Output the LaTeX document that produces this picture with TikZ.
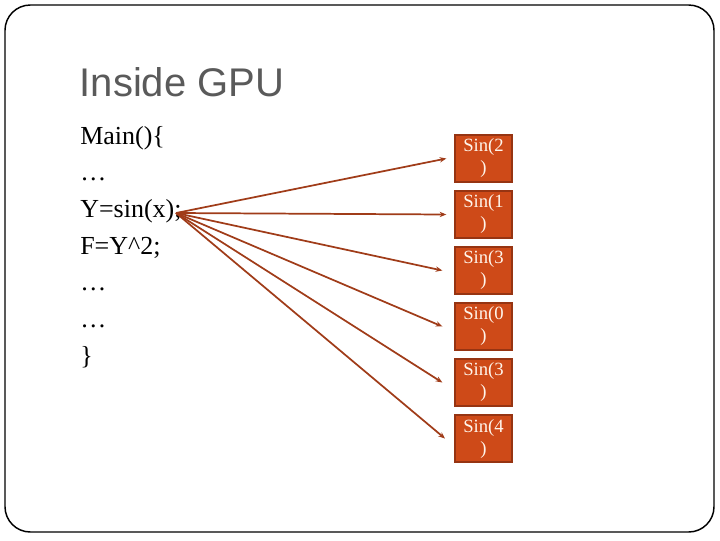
\documentclass[tikz,border=0pt]{standalone}
\usepackage{fontspec}
\setmainfont{Liberation Serif}
\newfontfamily\titlefont{Liberation Sans}
\usetikzlibrary{arrows.meta, positioning}
\definecolor{sinfill}{RGB}{206, 74, 24}
\definecolor{sinedge}{RGB}{150, 52, 18}
\definecolor{callline}{RGB}{160, 60, 25}
\definecolor{titlegray}{RGB}{90, 90, 90}

\begin{document}
\begin{tikzpicture}[
  x=0.75pt, y=-0.75pt,
  sinbox/.style={draw=sinedge, fill=sinfill, line width=1pt, minimum width=42.75pt, minimum height=35.25pt, inner sep=1pt, align=center, text=white!92!orange, font=\fontsize{14}{16.5}\selectfont},
  call/.style={draw=callline, line width=1.3pt, -{Stealth[length=5pt, width=4pt]}}
]
  \useasboundingbox (0,0) rectangle (720,540);
  \draw[line width=1.1pt, rounded corners=19pt] (5,5) rectangle (714,532);

  \node[anchor=base west, text=titlegray, font=\titlefont\fontsize{30}{34}\selectfont] (title) at (75,96) {Inside GPU};
  \node[anchor=base west, align=left, inner sep=0pt, font=\fontsize{19.5}{27.5}\selectfont] (code) at (80,364) {Main()\{\\\dots\\Y=sin(x);\\F=Y\^{}2;\\\dots\\\dots\\\}};
  \coordinate (src) at (176,213);

  \node[sinbox] (s1) at (483.5,158.5) {Sin(2\\)};
  \node[sinbox] (s2) at (483.5,214.5) {Sin(1\\)};
  \node[sinbox] (s3) at (483.5,270.5) {Sin(3\\)};
  \node[sinbox] (s4) at (483.5,326.5) {Sin(0\\)};
  \node[sinbox] (s5) at (483.5,382.5) {Sin(3\\)};
  \node[sinbox] (s6) at (483.5,438.5) {Sin(4\\)};

  \draw[call] (src) -- ([xshift=-6pt]s1.west);
  \draw[call] (src) -- ([xshift=-6pt]s2.west);
  \draw[call] (src) -- ([xshift=-9pt]s3.west);
  \draw[call] (src) -- ([xshift=-9pt]s4.west);
  \draw[call] (src) -- ([xshift=-9pt]s5.west);
  \draw[call] (src) -- ([xshift=-7pt]s6.west);
\end{tikzpicture}
\end{document}
